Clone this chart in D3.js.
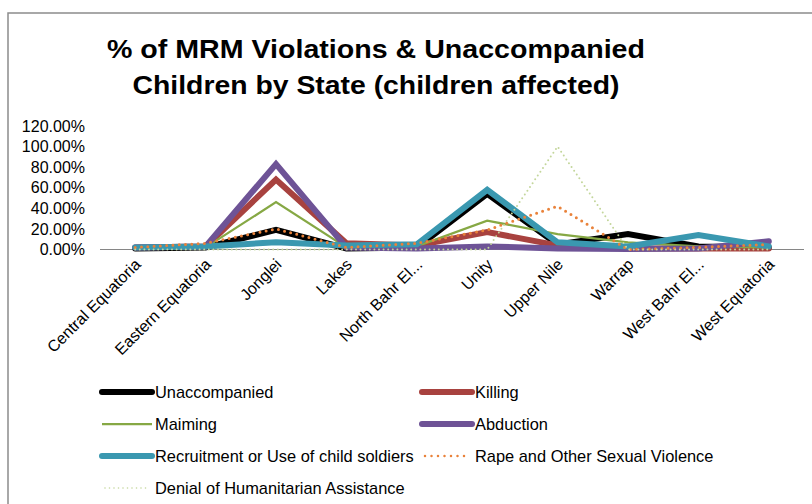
<!DOCTYPE html>
<html>
<head>
<meta charset="utf-8">
<script src="https://cdn.jsdelivr.net/npm/d3@7"></script>
<style>
  html, body { margin: 0; padding: 0; background: #fff; }
  svg { display: block; }
  text { font-family: "Liberation Sans", Arial, sans-serif; fill: #000; }
</style>
</head>
<body>
<svg id="chart" width="812" height="504"></svg>
<script>
// ---- Data ----
const categories = ["Central Equatoria", "Eastern Equatoria", "Jonglei", "Lakes", "North Bahr El...",
  "Unity", "Upper Nile", "Warrap", "West Bahr El...", "West Equatoria"];
const seriesNames = ["Unaccompanied", "Killing", "Maiming", "Abduction",
  "Recruitment or Use of child soldiers", "Rape and Other Sexual Violence", "Denial of Humanitarian Assistance"];
const unaccompanied = [1, 2, 19, 1, 2, 54, 5, 15, 3, 2];
const killing       = [2, 3, 68, 6, 4, 17, 4, 1, 1, 1];
const maiming       = [1, 2, 46, 2, 3, 28, 15, 7, 3, 2];
const abduction     = [2, 3, 83, 2, 1, 3, 1, 0.5, 1, 8];
const recruitment   = [2, 3, 7, 4, 5, 58, 7, 3, 14, 3];
const rape          = [2, 6, 20, 2, 6, 19, 42, 0, 2, 5];
const denial        = [0, 0, 0, 0, 0, 0, 100, 0, 0, 0];
const yTicks = [0, 20, 40, 60, 80, 100, 120];
const titleLines = ["% of MRM Violations & Unaccompanied", "Children by State (children affected)"];

const seriesValues = [unaccompanied, killing, maiming, abduction, recruitment, rape, denial];
const styles = [
  { color: "#000000", width: 6, dash: null, cap: "round" },
  { color: "#A8423F", width: 6, dash: null, cap: "round" },
  { color: "#86A844", width: 2.25, dash: null, cap: "round" },
  { color: "#6E5396", width: 6, dash: null, cap: "round" },
  { color: "#3A98B0", width: 6, dash: null, cap: "round" },
  { color: "#E9823A", width: 3, dash: "0,6.3", cap: "round" },
  { color: "#C3D69B", width: 2, dash: "0,4.6", cap: "round" }
];

const svg = d3.select("#chart");

// Outer chart border
svg.append("rect")
  .attr("x", 8).attr("y", 13).attr("width", 820).attr("height", 520)
  .attr("fill", "none").attr("stroke", "#8c8c8c").attr("stroke-width", 1.5);

// Title
const titleEl = svg.append("g");
const titleWidths = [538, 487];
titleLines.forEach((t, i) => {
  titleEl.append("text")
    .attr("x", 376).attr("y", 58 + i * 36)
    .attr("text-anchor", "middle")
    .attr("font-size", 26).attr("font-weight", "bold")
    .attr("textLength", titleWidths[i]).attr("lengthAdjust", "spacingAndGlyphs")
    .text(t);
});

// Scales
const x = d3.scalePoint().domain(categories).range([100, 804]).padding(0.5);
const y = d3.scaleLinear().domain([0, 120]).range([249.5, 126]);

// Y axis labels (no axis line)
const yAxis = d3.axisLeft(y).tickValues(yTicks).tickSize(0).tickPadding(0)
  .tickFormat(d => d3.format(".2f")(d) + "%");
const yg = svg.append("g").attr("transform", "translate(85,0)").call(yAxis);
yg.select(".domain").remove();
yg.selectAll("text").attr("font-size", 16).attr("font-family", "Liberation Sans, Arial, sans-serif").attr("fill", "#000");

// X axis
const xAxis = d3.axisBottom(x).tickSize(0).tickPadding(0);
const xg = svg.append("g").attr("transform", "translate(0,249.5)").call(xAxis);
xg.select(".domain").attr("d", "M100,0H804").attr("stroke", "#868686").attr("stroke-width", 1);
xg.selectAll(".tick text")
  .attr("font-size", 16).attr("font-family", "Liberation Sans, Arial, sans-serif").attr("fill", "#000")
  .attr("text-anchor", "end")
  .attr("dy", 0).attr("y", 0)
  .attr("transform", "translate(6,16) rotate(-45)");

// Lines
const line = d3.line().x((d, i) => x(categories[i])).y(d => y(d));
seriesValues.forEach((vals, k) => {
  const s = styles[k];
  svg.append("path")
    .datum(vals)
    .attr("d", line)
    .attr("fill", "none")
    .attr("stroke", s.color)
    .attr("stroke-width", s.width)
    .attr("stroke-linecap", s.cap)
    .attr("stroke-linejoin", "miter")
    .attr("stroke-dasharray", s.dash);
});

// Legend
const legendPos = [
  { x: 102, y: 392 }, { x: 422, y: 392 },
  { x: 102, y: 424 }, { x: 422, y: 424 },
  { x: 102, y: 456 }, { x: 422, y: 456 },
  { x: 102, y: 488 }
];
const legend = svg.append("g");
seriesNames.forEach((name, k) => {
  const p = legendPos[k];
  const s = styles[k];
  const dotted = s.dash != null;
  legend.append("line")
    .attr("x1", p.x + (dotted ? 3 : 0)).attr("x2", p.x + (dotted ? 44 : 50))
    .attr("y1", p.y).attr("y2", p.y)
    .attr("stroke", s.color)
    .attr("stroke-width", k === 5 ? 2.5 : (k === 6 ? 1.6 : s.width))
    .attr("stroke-linecap", k === 2 ? "butt" : "round")
    .attr("stroke-dasharray", k === 5 ? "0,6.5" : (k === 6 ? "0,4.5" : null));
  legend.append("text")
    .attr("x", p.x + 53).attr("y", p.y)
    .attr("dy", "0.35em")
    .attr("font-size", 16.4)
    .text(name);
});
</script>
</body>
</html>
